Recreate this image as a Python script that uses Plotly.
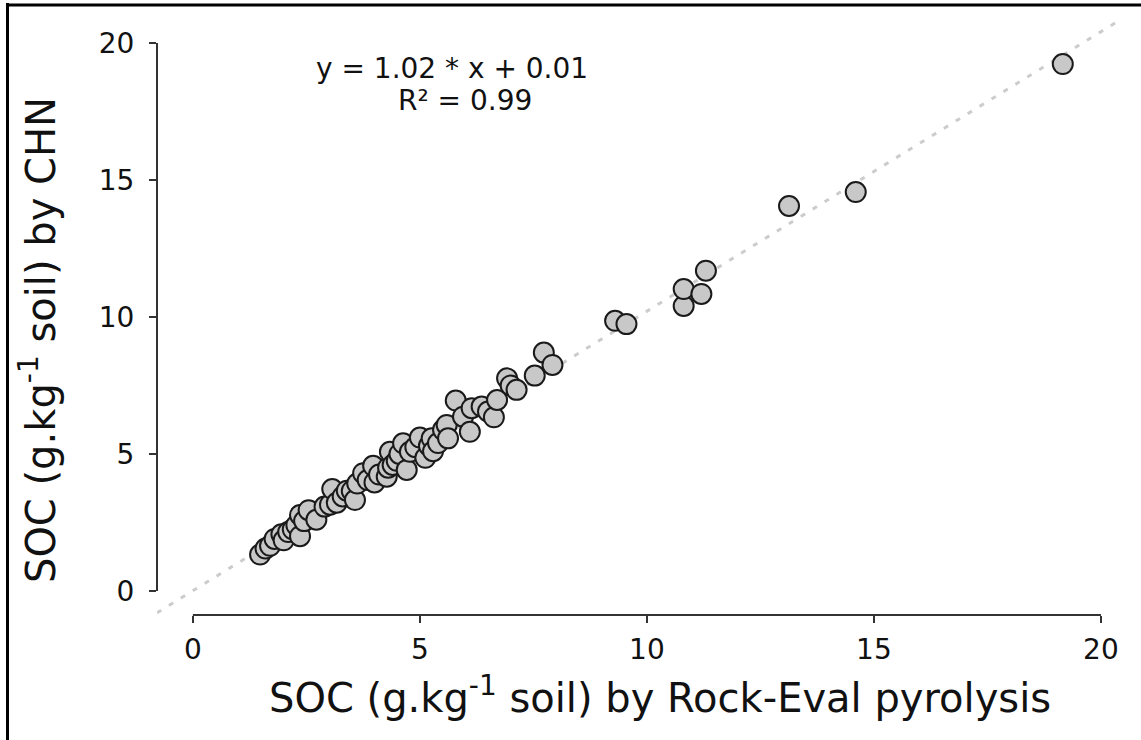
import plotly.graph_objects as go

# Data (SOC g/kg)
rock_eval = [1.48, 1.60, 1.70, 1.80, 1.95, 2.00, 2.10, 2.20, 2.28, 2.36, 2.36, 2.45, 2.55, 2.72,
             2.90, 3.02, 3.07, 3.17, 3.30, 3.39, 3.50, 3.57, 3.62, 3.75, 3.85, 3.97, 4.00,
             4.10, 4.27, 4.30, 4.34, 4.40, 4.49, 4.55, 4.63, 4.71, 4.78, 4.90, 5.00, 5.12,
             5.20, 5.26, 5.29, 5.40, 5.51, 5.59, 5.62, 5.79, 5.95, 6.10, 6.14, 6.36, 6.50,
             6.63, 6.70, 6.92, 7.00, 7.13, 7.53, 7.73, 7.92, 9.30, 9.55, 10.81, 10.81,
             11.20, 11.30, 13.13, 14.60, 19.16]
chn = [1.33, 1.55, 1.65, 1.90, 2.07, 1.85, 2.15, 2.25, 2.40, 2.00, 2.77, 2.55, 2.95, 2.60,
       3.08, 3.15, 3.72, 3.22, 3.45, 3.66, 3.65, 3.32, 3.92, 4.30, 4.05, 4.57, 3.96,
       4.25, 4.17, 4.50, 5.08, 4.60, 4.75, 5.00, 5.39, 4.42, 5.08, 5.25, 5.60, 4.86,
       5.30, 5.57, 5.10, 5.40, 5.88, 6.06, 5.57, 6.95, 6.36, 5.81, 6.67, 6.73, 6.55,
       6.34, 6.97, 7.76, 7.50, 7.34, 7.86, 8.70, 8.25, 9.86, 9.74, 10.40, 11.02,
       10.84, 11.69, 14.05, 14.56, 19.23]

slope, intercept = 1.02, 0.01
tick_vals = [0, 5, 10, 15, 20]
x_range = [-0.79, 20.42]
y_range = [-0.876, 21.02]

line_x = [x_range[0], x_range[1]]
line_y = [slope * v + intercept for v in line_x]

FONT = "DejaVu Sans"
AX = "#333333"
TXT = "#111111"

fig = go.Figure()
fig.add_trace(go.Scatter(x=line_x, y=line_y, mode="lines",
                         line=dict(color="#cccccc", width=3, dash="5px,9px"),
                         hoverinfo="skip", showlegend=False))
fig.add_trace(go.Scatter(x=rock_eval, y=chn, mode="markers",
                         marker=dict(size=20, color="#c8c8c8",
                                     line=dict(color="#1a1a1a", width=2)),
                         showlegend=False))

L, T, R, B = 157, 15, 21, 125
W, H = 1141, 740
pw, ph = W - L - R, H - T - B

def px_x(p):
    return (p - L) / pw

def px_y(p):
    return (H - B - p) / ph

fig.update_layout(
    width=W, height=H,
    margin=dict(l=L, r=R, t=T, b=B, pad=0),
    plot_bgcolor="white", paper_bgcolor="white",
    font=dict(family=FONT, color=TXT),
    xaxis=dict(range=x_range, tickvals=tick_vals, showgrid=False, zeroline=False,
               showline=False, ticks="outside", ticklen=7, tickwidth=2, tickcolor=AX,
               ticklabelstandoff=2,
               tickfont=dict(size=28, family=FONT, color=TXT)),
    yaxis=dict(range=y_range, tickvals=tick_vals, showgrid=False, zeroline=False,
               showline=False, ticks="outside", ticklen=7, tickwidth=2, tickcolor=AX,
               ticklabelstandoff=9,
               tickfont=dict(size=28, family=FONT, color=TXT)),
    shapes=[
        dict(type="line", xref="x", yref="paper", x0=0, x1=20, y0=0, y1=0,
             line=dict(color=AX, width=2)),
        dict(type="line", xref="paper", yref="y", x0=0, x1=0, y0=0, y1=20,
             line=dict(color=AX, width=2)),
        dict(type="line", xref="paper", yref="paper", x0=px_x(7.5), x1=px_x(7.5),
             y0=px_y(3), y1=px_y(745), line=dict(color="black", width=3)),
        dict(type="line", xref="paper", yref="paper", x0=px_x(6), x1=px_x(1145),
             y0=px_y(5), y1=px_y(5), line=dict(color="black", width=3)),
    ],
    annotations=[
        dict(text="SOC (g.kg<sup>-1</sup> soil) by Rock-Eval pyrolysis",
             xref="paper", yref="paper", x=px_x(660), y=px_y(695),
             xanchor="center", yanchor="middle", showarrow=False,
             font=dict(size=40, family=FONT, color=TXT)),
        dict(text="SOC (g.kg<sup>-1</sup> soil) by CHN",
             xref="paper", yref="paper", x=px_x(38), y=px_y(340),
             xanchor="center", yanchor="middle", showarrow=False, textangle=-90,
             font=dict(size=40, family=FONT, color=TXT)),
        dict(text="y = 1.02 * x + 0.01",
             xref="paper", yref="paper", x=px_x(452), y=px_y(68),
             xanchor="center", yanchor="middle", showarrow=False,
             font=dict(size=28, family=FONT, color=TXT)),
        dict(text="R² = 0.99",
             xref="paper", yref="paper", x=px_x(465), y=px_y(101),
             xanchor="center", yanchor="middle", showarrow=False,
             font=dict(size=28, family=FONT, color=TXT)),
    ],
)

fig.write_html("out.html", config={"displayModeBar": False},
               post_script="document.body.style.margin='0px';"
                           "document.body.style.overflow='hidden';")
